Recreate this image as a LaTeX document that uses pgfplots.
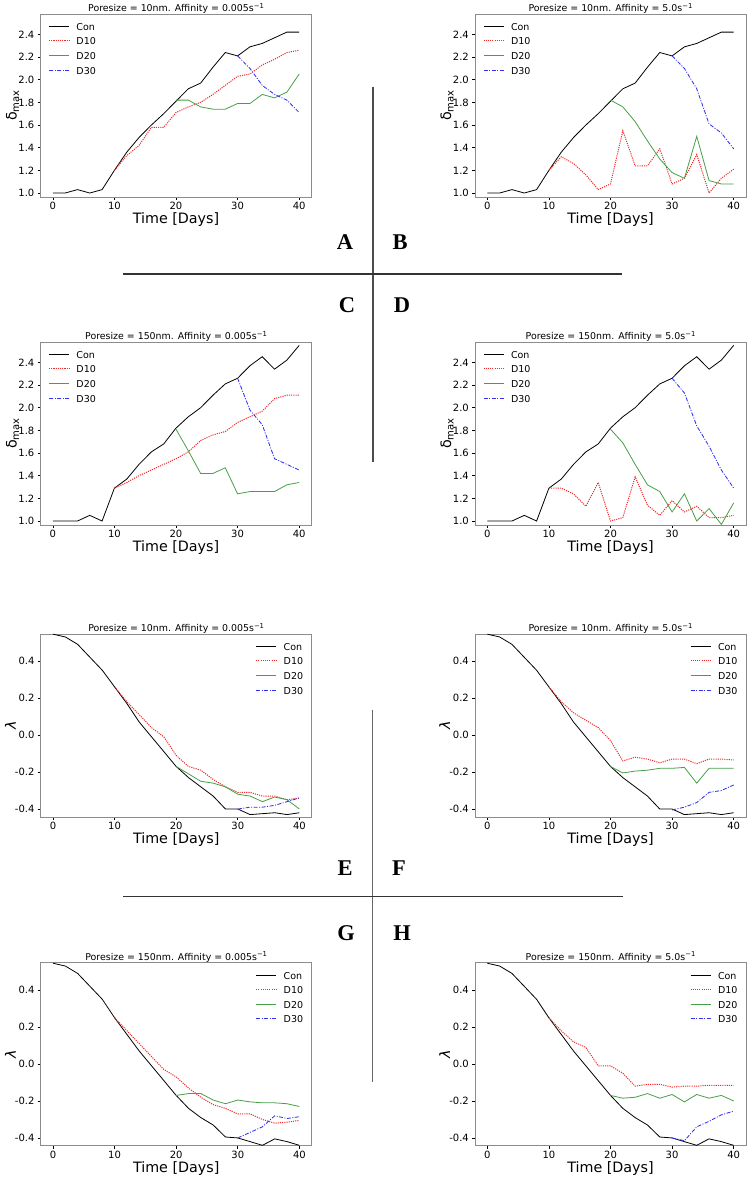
\documentclass[border=0pt]{standalone}
\usepackage{fontspec}
\setmainfont{DejaVu Sans}
\newfontfamily\letterfont{Liberation Serif}
\usepackage{pgfplots}
\pgfplotsset{compat=1.18}
\definecolor{cred}{RGB}{240,40,40}
\definecolor{cgreen}{RGB}{70,160,70}
\definecolor{cblue}{RGB}{50,50,240}
\definecolor{cframe}{RGB}{140,140,140}

\newcommand{\dmax}{δ\raisebox{-2.6pt}{\fontsize{10}{10}\selectfont max}}
\newcommand{\lam}{\textit{λ}}
\newcommand{\inv}{\raisebox{3.4pt}{\fontsize{6.8}{6.8}\selectfont −1}}

\pgfplotsset{
 every axis title shift=0pt,
 panel/.style={
  scale only axis, width=271pt, height=183pt,
  anchor=south west,
  xmin=-2, xmax=42,
  xtick={0,10,20,30,40}, xticklabels={0,10,20,30,40},
  tick align=outside, xtick pos=bottom, ytick pos=left,
  major tick length=3pt,
  every tick/.style={black, line width=0.6pt},
  axis line style={cframe, line width=0.8pt},
  ticklabel style={font=\fontsize{10}{10}\selectfont, inner sep=0pt},
  xticklabel style={yshift=-2pt},
  yticklabel style={xshift=-3pt},
  title style={at={(axis description cs:0.5,1)}, anchor=base, yshift=2.5pt, inner sep=0pt, font=\fontsize{9.4}{9.4}\selectfont},
  xlabel={Time [Days]},
  xlabel style={at={(axis description cs:0.5,0)}, anchor=center, yshift=-22.5pt, font=\fontsize{14.3}{14.3}\selectfont, inner sep=0pt},
  ylabel style={at={(axis description cs:-0.103,0.5)}, anchor=center, inner sep=0pt, font=\fontsize{14.3}{14.3}\selectfont},
  legend cell align=left,
  legend image code/.code={\draw[##1] (0pt,0.5pt) -- (20pt,0.5pt);},
  legend style={draw=none, fill=none, inner sep=0pt, font=\fontsize{9.5}{9.5}\selectfont,
     nodes={inner sep=0pt, text height=7pt, text depth=0pt, inner ysep=3.8pt},
     /tikz/every odd column/.append style={column sep=7pt}},
  cycle list={
    {black, line width=0.8pt},
    {cred, line width=1pt, dash pattern=on 1.1pt off 1.1pt},
    {cgreen, line width=0.8pt},
    {cblue, line width=0.85pt, dash pattern=on 4pt off 1.5pt on 1pt off 1.5pt}},
 },
 dpanel/.style={panel, ymin=0.965, ymax=2.58,
  ytick={1.0,1.2,1.4,1.6,1.8,2.0,2.2,2.4}, yticklabels={1.0,1.2,1.4,1.6,1.8,2.0,2.2,2.4},
  ylabel={\dmax},
  legend style={at={(axis description cs:0,1)}, anchor=north west, xshift=7.8pt, yshift=-5.4pt}},
 lpanel/.style={panel, ymin=-0.443, ymax=0.546,
  ytick={-0.4,-0.2,0,0.2,0.4}, yticklabels={-0.4,-0.2,0.0,0.2,0.4},
  ylabel={\lam},
  ylabel style={at={(axis description cs:-0.112,0.5)}},
  legend style={at={(axis description cs:1,1)}, anchor=north east, xshift=-8.4pt, yshift=-5.4pt}},
}

\begin{document}
\begin{tikzpicture}[x=1pt,y=1pt]
\useasboundingbox (0,0) rectangle (750,1177);

% A
\begin{axis}[dpanel, at={(40.5pt,980pt)}, title={Poresize = 10nm. Affinity = 0.005s\inv}]
\addplot coordinates {(0,1.00)(2,1.00)(4,1.03)(6,1.00)(8,1.03)(10,1.20)(12,1.36)(14,1.49)(16,1.60)(18,1.70)(20,1.81)(22,1.92)(24,1.97)(26,2.11)(28,2.24)(30,2.21)(32,2.29)(34,2.32)(36,2.37)(38,2.42)(40,2.42)};
\addplot coordinates {(10,1.20)(12,1.33)(14,1.42)(16,1.58)(18,1.58)(20,1.71)(22,1.76)(24,1.80)(26,1.87)(28,1.95)(30,2.03)(32,2.05)(34,2.13)(36,2.18)(38,2.24)(40,2.26)};
\addplot coordinates {(20,1.82)(22,1.82)(24,1.76)(26,1.74)(28,1.74)(30,1.79)(32,1.79)(34,1.87)(36,1.84)(38,1.89)(40,2.05)};
\addplot coordinates {(30,2.21)(32,2.10)(34,1.95)(36,1.87)(38,1.82)(40,1.71)};
\legend{Con,D10,D20,D30}
\end{axis}

% B
\begin{axis}[dpanel, at={(475pt,980pt)}, title={Poresize = 10nm. Affinity = 5.0s\inv}]
\addplot coordinates {(0,1.00)(2,1.00)(4,1.03)(6,1.00)(8,1.03)(10,1.20)(12,1.36)(14,1.49)(16,1.60)(18,1.70)(20,1.81)(22,1.92)(24,1.97)(26,2.11)(28,2.24)(30,2.21)(32,2.29)(34,2.32)(36,2.37)(38,2.42)(40,2.42)};
\addplot coordinates {(10,1.20)(12,1.32)(14,1.26)(16,1.16)(18,1.03)(20,1.08)(22,1.55)(24,1.24)(26,1.24)(28,1.39)(30,1.08)(32,1.13)(34,1.34)(36,1.00)(38,1.13)(40,1.21)};
\addplot coordinates {(20,1.82)(22,1.76)(24,1.63)(26,1.46)(28,1.30)(30,1.18)(32,1.13)(34,1.50)(36,1.11)(38,1.08)(40,1.08)};
\addplot coordinates {(30,2.21)(32,2.10)(34,1.92)(36,1.61)(38,1.53)(40,1.39)};
\legend{Con,D10,D20,D30}
\end{axis}

% C
\begin{axis}[dpanel, at={(40.5pt,652pt)}, title={Poresize = 150nm. Affinity = 0.005s\inv}]
\addplot coordinates {(0,1.00)(2,1.00)(4,1.00)(6,1.05)(8,1.00)(10,1.29)(12,1.37)(14,1.50)(16,1.61)(18,1.68)(20,1.82)(22,1.92)(24,2.00)(26,2.11)(28,2.21)(30,2.26)(32,2.37)(34,2.45)(36,2.34)(38,2.42)(40,2.55)};
\addplot coordinates {(10,1.29)(12,1.34)(14,1.40)(16,1.45)(18,1.50)(20,1.55)(22,1.61)(24,1.71)(26,1.76)(28,1.79)(30,1.87)(32,1.92)(34,1.97)(36,2.08)(38,2.11)(40,2.11)};
\addplot coordinates {(20,1.81)(22,1.62)(24,1.42)(26,1.42)(28,1.47)(30,1.24)(32,1.26)(34,1.26)(36,1.26)(38,1.32)(40,1.34)};
\addplot coordinates {(30,2.26)(32,1.98)(34,1.85)(36,1.55)(38,1.50)(40,1.45)};
\legend{Con,D10,D20,D30}
\end{axis}

% D
\begin{axis}[dpanel, at={(475pt,652pt)}, title={Poresize = 150nm. Affinity = 5.0s\inv}]
\addplot coordinates {(0,1.00)(2,1.00)(4,1.00)(6,1.05)(8,1.00)(10,1.29)(12,1.37)(14,1.50)(16,1.61)(18,1.68)(20,1.82)(22,1.92)(24,2.00)(26,2.11)(28,2.21)(30,2.26)(32,2.37)(34,2.45)(36,2.34)(38,2.42)(40,2.55)};
\addplot coordinates {(10,1.29)(12,1.29)(14,1.24)(16,1.13)(18,1.34)(20,1.00)(22,1.03)(24,1.39)(26,1.14)(28,1.05)(30,1.18)(32,1.08)(34,1.13)(36,1.03)(38,1.03)(40,1.05)};
\addplot coordinates {(20,1.81)(22,1.69)(24,1.50)(26,1.32)(28,1.26)(30,1.08)(32,1.24)(34,1.00)(36,1.11)(38,0.97)(40,1.16)};
\addplot coordinates {(30,2.26)(32,2.13)(34,1.84)(36,1.66)(38,1.45)(40,1.29)};
\legend{Con,D10,D20,D30}
\end{axis}

% E
\begin{axis}[lpanel, at={(40.7pt,360pt)}, title={Poresize = 10nm. Affinity = 0.005s\inv}]
\addplot coordinates {(0,0.545)(2,0.53)(4,0.49)(6,0.42)(8,0.35)(10,0.26)(12,0.17)(14,0.07)(16,-0.01)(18,-0.09)(20,-0.17)(22,-0.23)(24,-0.28)(26,-0.33)(28,-0.40)(30,-0.40)(32,-0.43)(34,-0.425)(36,-0.42)(38,-0.43)(40,-0.42)};
\addplot coordinates {(10,0.26)(12,0.18)(14,0.11)(16,0.04)(18,-0.01)(20,-0.11)(22,-0.17)(24,-0.19)(26,-0.24)(28,-0.28)(30,-0.31)(32,-0.31)(34,-0.33)(36,-0.33)(38,-0.35)(40,-0.34)};
\addplot coordinates {(20,-0.17)(22,-0.21)(24,-0.25)(26,-0.26)(28,-0.28)(30,-0.32)(32,-0.33)(34,-0.36)(36,-0.335)(38,-0.35)(40,-0.40)};
\addplot coordinates {(30,-0.40)(32,-0.39)(34,-0.39)(36,-0.38)(38,-0.36)(40,-0.34)};
\legend{Con,D10,D20,D30}
\end{axis}

% F
\begin{axis}[lpanel, at={(475pt,360pt)}, title={Poresize = 10nm. Affinity = 5.0s\inv}]
\addplot coordinates {(0,0.545)(2,0.53)(4,0.49)(6,0.42)(8,0.35)(10,0.26)(12,0.17)(14,0.07)(16,-0.01)(18,-0.09)(20,-0.17)(22,-0.23)(24,-0.28)(26,-0.33)(28,-0.40)(30,-0.40)(32,-0.43)(34,-0.425)(36,-0.42)(38,-0.43)(40,-0.42)};
\addplot coordinates {(10,0.26)(12,0.18)(14,0.12)(16,0.08)(18,0.04)(20,-0.03)(22,-0.14)(24,-0.12)(26,-0.13)(28,-0.15)(30,-0.13)(32,-0.13)(34,-0.155)(36,-0.13)(38,-0.13)(40,-0.135)};
\addplot coordinates {(20,-0.17)(22,-0.205)(24,-0.195)(26,-0.19)(28,-0.18)(30,-0.18)(32,-0.175)(34,-0.26)(36,-0.18)(38,-0.18)(40,-0.18)};
\addplot coordinates {(30,-0.405)(32,-0.39)(34,-0.365)(36,-0.31)(38,-0.30)(40,-0.27)};
\legend{Con,D10,D20,D30}
\end{axis}

% G
\begin{axis}[lpanel, ymin=-0.442, ymax=0.548, at={(40.7pt,31.3pt)}, title={Poresize = 150nm. Affinity = 0.005s\inv}]
\addplot coordinates {(0,0.545)(2,0.53)(4,0.49)(6,0.42)(8,0.35)(10,0.25)(12,0.16)(14,0.07)(16,-0.01)(18,-0.09)(20,-0.17)(22,-0.24)(24,-0.29)(26,-0.33)(28,-0.395)(30,-0.40)(32,-0.42)(34,-0.44)(36,-0.405)(38,-0.42)(40,-0.44)};
\addplot coordinates {(10,0.25)(12,0.18)(14,0.11)(16,0.04)(18,-0.03)(20,-0.07)(22,-0.13)(24,-0.18)(26,-0.22)(28,-0.24)(30,-0.27)(32,-0.27)(34,-0.30)(36,-0.32)(38,-0.315)(40,-0.305)};
\addplot coordinates {(20,-0.17)(22,-0.16)(24,-0.16)(26,-0.195)(28,-0.215)(30,-0.195)(32,-0.205)(34,-0.21)(36,-0.21)(38,-0.215)(40,-0.23)};
\addplot coordinates {(30,-0.40)(32,-0.37)(34,-0.34)(36,-0.28)(38,-0.295)(40,-0.285)};
\legend{Con,D10,D20,D30}
\end{axis}

% H
\begin{axis}[lpanel, ymin=-0.442, ymax=0.548, at={(475pt,31.3pt)}, title={Poresize = 150nm. Affinity = 5.0s\inv}]
\addplot coordinates {(0,0.545)(2,0.53)(4,0.49)(6,0.42)(8,0.35)(10,0.25)(12,0.16)(14,0.07)(16,-0.01)(18,-0.09)(20,-0.17)(22,-0.24)(24,-0.29)(26,-0.33)(28,-0.395)(30,-0.40)(32,-0.42)(34,-0.44)(36,-0.405)(38,-0.42)(40,-0.44)};
\addplot coordinates {(10,0.25)(12,0.18)(14,0.12)(16,0.09)(18,-0.01)(20,-0.01)(22,-0.05)(24,-0.12)(26,-0.11)(28,-0.11)(30,-0.125)(32,-0.12)(34,-0.12)(36,-0.115)(38,-0.115)(40,-0.115)};
\addplot coordinates {(20,-0.17)(22,-0.185)(24,-0.18)(26,-0.16)(28,-0.185)(30,-0.165)(32,-0.205)(34,-0.165)(36,-0.185)(38,-0.17)(40,-0.20)};
\addplot coordinates {(30,-0.40)(32,-0.415)(34,-0.34)(36,-0.31)(38,-0.275)(40,-0.255)};
\legend{Con,D10,D20,D30}
\end{axis}

% dividers and panel letters
\draw[black!70, line width=1.3pt] (373,1090) -- (373,715);
\draw[black!80, line width=1.3pt] (123,903) -- (622,903);
\draw[black!60, line width=1.3pt] (372.7,467) -- (372.7,95);
\draw[black!80, line width=1.3pt] (123,280.3) -- (623,280.3);
\begin{scope}[every node/.style={font=\letterfont\bfseries\fontsize{22.5}{22.5}\selectfont, inner sep=0pt, anchor=center}]
\node at (345,935) {A};
\node at (400,935) {B};
\node at (347,872) {C};
\node at (402,872) {D};
\node at (345,309) {E};
\node at (399,309) {F};
\node at (346,244) {G};
\node at (402,244) {H};
\end{scope}
\end{tikzpicture}
\end{document}
